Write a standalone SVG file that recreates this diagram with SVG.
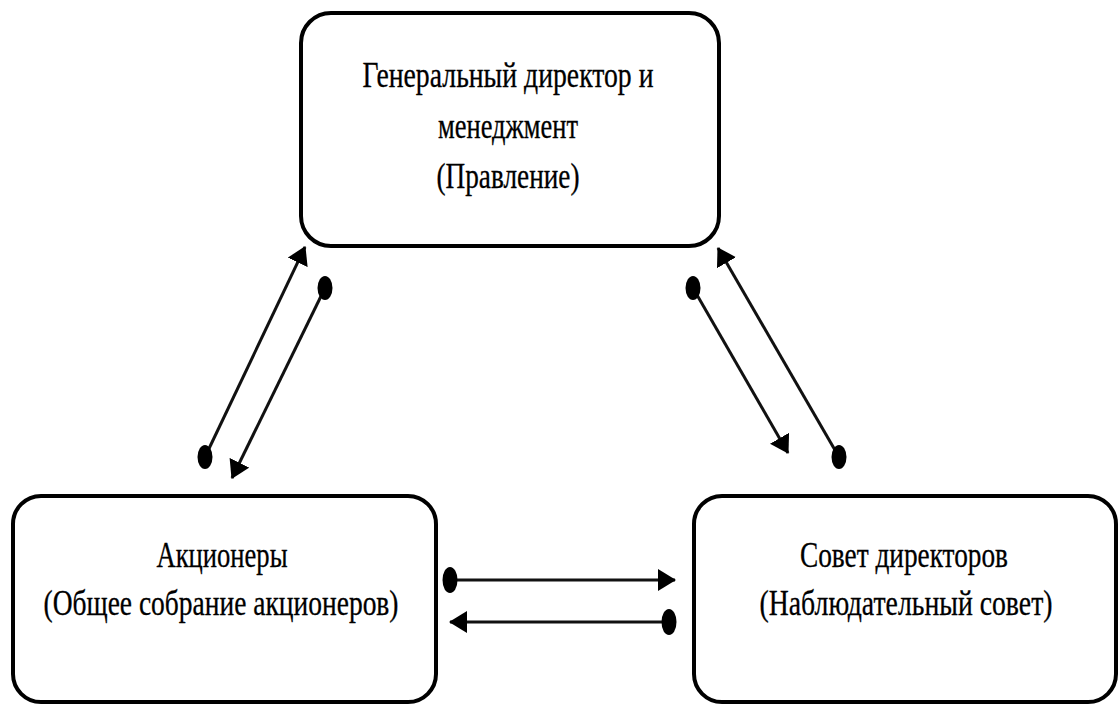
<svg xmlns="http://www.w3.org/2000/svg" width="1120" height="708" viewBox="0 0 1120 708">
<defs>
<style>
.box{fill:#fff;stroke:#000;stroke-width:4}
.t{font-family:"Liberation Serif","Times New Roman",serif;font-size:35px;fill:#000;stroke:#000;stroke-width:0.3;text-anchor:middle}
.c{stroke:#111;stroke-width:3;fill:none}
.d{fill:#000}
</style>
<marker id="ah" viewBox="0 0 18 22" refX="17" refY="11" markerWidth="18" markerHeight="22" markerUnits="userSpaceOnUse" orient="auto">
<path d="M0,0 L18,11 L0,22 Z" fill="#000"/>
</marker>
</defs>
<rect width="1120" height="708" fill="#fff"/>
<g id="node-ceo">
<rect class="box" x="301" y="13" width="418" height="233" rx="30"/>
<text class="t" x="508" y="87" textLength="291" lengthAdjust="spacingAndGlyphs">Генеральный директор и</text>
<text class="t" x="508" y="138" textLength="140" lengthAdjust="spacingAndGlyphs">менеджмент</text>
<text class="t" x="508" y="188" textLength="143" lengthAdjust="spacingAndGlyphs">(Правление)</text>
</g>
<g id="node-shareholders">
<rect class="box" x="13" y="496" width="423" height="206" rx="28"/>
<text class="t" x="222" y="567" textLength="131" lengthAdjust="spacingAndGlyphs">Акционеры</text>
<text class="t" x="221" y="615" textLength="355" lengthAdjust="spacingAndGlyphs">(Общее собрание акционеров)</text>
</g>
<g id="node-board">
<rect class="box" x="694" y="496" width="422" height="206" rx="28"/>
<text class="t" x="904" y="567" textLength="208" lengthAdjust="spacingAndGlyphs">Совет директоров</text>
<text class="t" x="906" y="615" textLength="293" lengthAdjust="spacingAndGlyphs">(Наблюдательный совет)</text>
</g>
<g id="connectors">
<line class="c" x1="205" y1="457" x2="305" y2="247" marker-end="url(#ah)"/>
<ellipse class="d" cx="205" cy="457" rx="7.5" ry="12"/>
<line class="c" x1="325" y1="288" x2="232" y2="478" marker-end="url(#ah)"/>
<ellipse class="d" cx="325" cy="288" rx="7.5" ry="12"/>
<line class="c" x1="693" y1="288" x2="788" y2="453" marker-end="url(#ah)"/>
<ellipse class="d" cx="693" cy="288" rx="7.5" ry="12"/>
<line class="c" x1="839" y1="457" x2="718" y2="248" marker-end="url(#ah)"/>
<ellipse class="d" cx="839" cy="457" rx="7.5" ry="12"/>
<line class="c" x1="450" y1="580" x2="675" y2="580" marker-end="url(#ah)"/>
<ellipse class="d" cx="450" cy="580" rx="7.5" ry="13"/>
<line class="c" x1="669" y1="622" x2="450" y2="622" marker-end="url(#ah)"/>
<ellipse class="d" cx="669" cy="622" rx="7.5" ry="13"/>
</g>
</svg>
